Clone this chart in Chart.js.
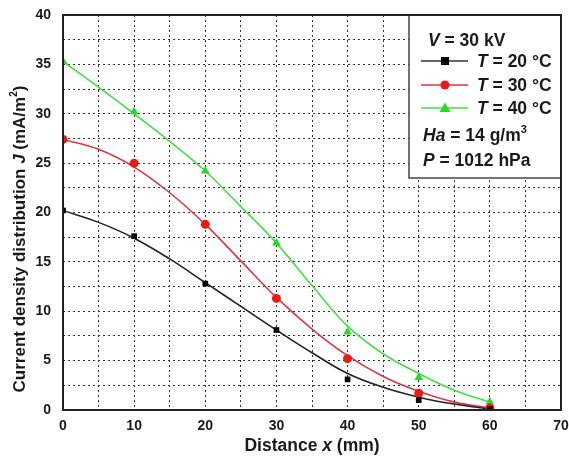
<!DOCTYPE html>
<html>
<head>
<meta charset="utf-8">
<script src="https://cdn.jsdelivr.net/npm/chart.js@4"></script>
<style>
  html, body { margin: 0; padding: 0; background: #fff; }
  #wrap { width: 569px; height: 462px; position: relative; }
</style>
</head>
<body>
<div id="wrap"><canvas id="c" width="569" height="462"></canvas></div>
<script>
// ---- Data ----
const distances = [0, 10, 20, 30, 40, 50, 60];           // measured points (mm)
const j20 = [20.2, 17.6, 12.8, 8.1, 3.1, 1.0, 0.1];       // T = 20 °C
const j30 = [27.4, 25.0, 18.8, 11.3, 5.2, 1.7, 0.2];      // T = 30 °C
const j40 = [35.3, 30.2, 24.2, 16.9, 7.9, 3.3, 0.8];      // T = 40 °C

// fitted curves (every 5 mm)
const curveX = [0, 5, 10, 15, 20, 25, 30, 35, 40, 45, 50, 55, 60];
const fit20 = [20.2, 19.0, 17.4, 15.3, 12.9, 10.5, 8.1, 5.8, 3.7, 2.3, 1.3, 0.6, 0.1];
const fit30 = [27.4, 26.4, 24.6, 22.0, 18.8, 15.1, 11.4, 8.2, 5.5, 3.4, 1.9, 0.8, 0.2];
const fit40 = [35.3, 32.7, 30.0, 27.2, 24.2, 20.6, 16.9, 12.6, 8.5, 5.7, 3.7, 2.0, 0.8];

const xTicksMajor = [0, 10, 20, 30, 40, 50, 60, 70];
const yTicksMajor = [0, 5, 10, 15, 20, 25, 30, 35, 40];

const FONT = '"Liberation Sans", Arial, Helvetica, sans-serif';
const BLACK = '#000000';
const RED_LINE = 'rgb(215,55,65)';
const RED_PT = 'rgb(235,25,25)';
const GREEN_LINE = 'rgb(70,220,70)';
const GREEN_PT = 'rgb(40,215,40)';

function pts(xs, ys) { return xs.map((x, i) => ({ x: x, y: ys[i] })); }

function curveDs(data, color) {
  return { type: 'line', data: data, borderColor: color, borderWidth: 1.6,
    pointRadius: 0, tension: 0.4, fill: false, order: 2 };
}
function pointDs(data, color, style, r) {
  return { type: 'scatter', data: data, showLine: false, pointStyle: style,
    pointRadius: r, backgroundColor: color, borderColor: color, borderWidth: 0, order: 1 };
}

// draw a run of text segments (with optional italic / superscript)
function drawRich(ctx, segs, x, y, size, align) {
  let widths = segs.map(s => {
    ctx.font = (s.italic ? 'italic ' : '') + 'bold ' + (s.sup ? Math.round(size * 0.6) : size) + 'px ' + FONT;
    return ctx.measureText(s.t).width;
  });
  let total = widths.reduce((a, b) => a + b, 0);
  let cx = align === 'center' ? x - total / 2 : x;
  segs.forEach((s, i) => {
    ctx.font = (s.italic ? 'italic ' : '') + 'bold ' + (s.sup ? Math.round(size * 0.6) : size) + 'px ' + FONT;
    ctx.fillText(s.t, cx, s.sup ? y - size * 0.45 : y);
    cx += widths[i];
  });
}

const decor = {
  id: 'decor',
  afterDraw(chart) {
    const ctx = chart.ctx;
    const a = chart.chartArea;
    ctx.save();
    // plot frame
    ctx.strokeStyle = '#222';
    ctx.lineWidth = 2;
    ctx.strokeRect(a.left, a.top, a.right - a.left, a.bottom - a.top);

    // axis titles
    ctx.fillStyle = '#1a1a1a';
    ctx.textBaseline = 'alphabetic';
    drawRich(ctx, [{ t: 'Distance ' }, { t: 'x', italic: true }, { t: ' (mm)' }],
      (a.left + a.right) / 2, 451, 17.5, 'center');
    ctx.save();
    ctx.translate(25, 239);
    ctx.rotate(-Math.PI / 2);
    drawRich(ctx, [{ t: 'Current density distribution ' }, { t: 'J', italic: true },
      { t: ' (mA/m' }, { t: '2', sup: true }, { t: ')' }], 0, 0, 17, 'center');
    ctx.restore();

    // legend box
    const bx = 409, by = a.top, bw = a.right - 409, bh = 178 - a.top;
    ctx.fillStyle = '#fff';
    ctx.fillRect(bx, by, bw, bh);
    ctx.strokeStyle = '#444';
    ctx.lineWidth = 1.5;
    ctx.strokeRect(bx, by, bw, bh);
    ctx.strokeStyle = '#222';
    ctx.lineWidth = 2;
    ctx.beginPath(); ctx.moveTo(a.left, a.top); ctx.lineTo(a.right, a.top); ctx.lineTo(a.right, a.bottom); ctx.stroke();

    ctx.fillStyle = '#1a1a1a';
    drawRich(ctx, [{ t: 'V', italic: true }, { t: ' = 30 kV' }], 428, 46, 17.5, 'left');
    const rows = [
      { y: 61, line: '#333', pt: BLACK, style: 'rect', label: ' = 20 °C' },
      { y: 85, line: RED_LINE, pt: RED_PT, style: 'circle', label: ' = 30 °C' },
      { y: 108, line: GREEN_LINE, pt: GREEN_PT, style: 'triangle', label: ' = 40 °C' }
    ];
    rows.forEach(r => {
      ctx.strokeStyle = r.line;
      ctx.lineWidth = 1.6;
      ctx.beginPath(); ctx.moveTo(421, r.y); ctx.lineTo(468, r.y); ctx.stroke();
      ctx.fillStyle = r.pt;
      ctx.beginPath();
      if (r.style === 'rect') ctx.rect(441, r.y - 4, 8, 8);
      else if (r.style === 'circle') ctx.arc(445, r.y, 4.5, 0, Math.PI * 2);
      else { ctx.moveTo(445, r.y - 5.5); ctx.lineTo(450.5, r.y + 4); ctx.lineTo(439.5, r.y + 4); ctx.closePath(); }
      ctx.fill();
      ctx.fillStyle = '#1a1a1a';
      drawRich(ctx, [{ t: 'T', italic: true }, { t: r.label }], 477, r.y + 6, 17.5, 'left');
    });
    drawRich(ctx, [{ t: 'Ha', italic: true }, { t: ' = 14 g/m' }, { t: '3', sup: true }], 423, 141, 17.5, 'left');
    drawRich(ctx, [{ t: 'P', italic: true }, { t: ' = 1012 hPa' }], 423, 166, 17.5, 'left');
    ctx.restore();
  }
};

const gridCommon = {
  color: '#333',
  lineWidth: 1,
  drawTicks: false,
};

new Chart(document.getElementById('c'), {
  data: {
    datasets: [
      curveDs(pts(curveX, fit20), '#222'),
      curveDs(pts(curveX, fit30), RED_LINE),
      curveDs(pts(curveX, fit40), GREEN_LINE),
      pointDs(pts(distances, j20), BLACK, 'rect', 4),
      pointDs(pts(distances, j30), RED_PT, 'circle', 4.5),
      pointDs(pts(distances, j40), GREEN_PT, 'triangle', 5)
    ]
  },
  options: {
    responsive: false,
    animation: false,
    devicePixelRatio: 1,
    layout: { padding: { top: 15, right: 8, bottom: 0, left: 0 } },
    plugins: { legend: { display: false }, tooltip: { enabled: false } },
    scales: {
      x: {
        type: 'linear', min: 0, max: 70,
        grid: Object.assign({}, gridCommon),
        border: { display: false, dash: [2, 3] },
        ticks: {
          stepSize: 5, padding: 8, color: '#1a1a1a', maxRotation: 0,
          font: { family: FONT, size: 14, weight: 'bold' },
          callback: v => xTicksMajor.includes(v) ? String(v) : ''
        },
        afterFit: s => { s.height = 52; s.paddingLeft = 0; s.paddingRight = 0; }
      },
      y: {
        type: 'linear', min: 0, max: 40,
        grid: Object.assign({}, gridCommon),
        border: { display: false, dash: [2, 3] },
        ticks: {
          stepSize: 2.5, padding: 12, color: '#1a1a1a',
          font: { family: FONT, size: 14, weight: 'bold' },
          callback: v => yTicksMajor.includes(v) ? String(v) : ''
        },
        afterFit: s => { s.width = 63; s.paddingTop = 0; s.paddingBottom = 0; }
      }
    }
  },
  plugins: [decor]
});
</script>
</body>
</html>
